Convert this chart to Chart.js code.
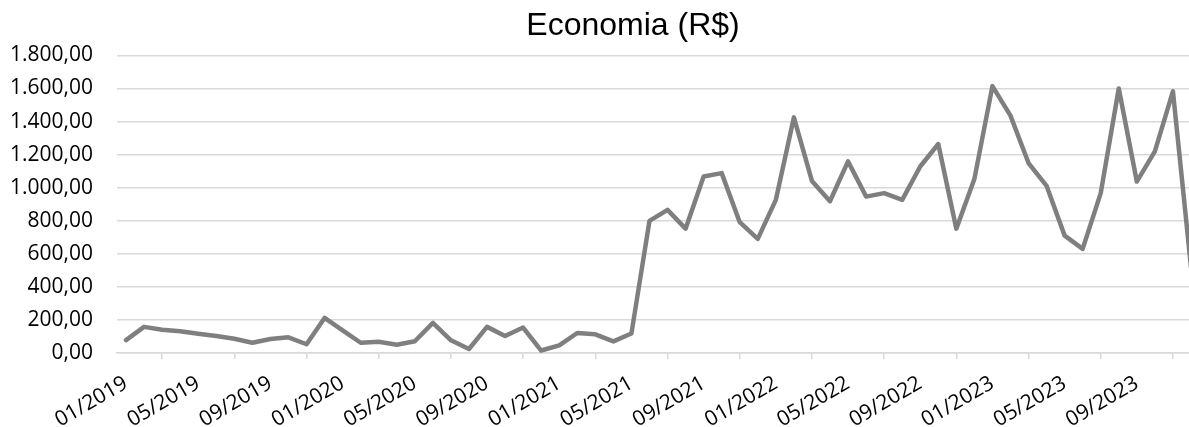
<!DOCTYPE html>
<html>
<head>
<meta charset="utf-8">
<script src="https://cdn.jsdelivr.net/npm/chart.js@4/dist/chart.umd.min.js"></script>
<style>
    html, body { margin: 0; padding: 0; background: #fff; overflow: hidden; }
    #economiaChart { position: absolute; left: 0; top: 0; }
</style>
</head>
<body>
<canvas id="economiaChart" width="1266" height="427"></canvas>
<script>
// Data
const months = [
    '01/2019', '02/2019', '03/2019', '04/2019', '05/2019', '06/2019', '07/2019', '08/2019', '09/2019', '10/2019', '11/2019', '12/2019',
    '01/2020', '02/2020', '03/2020', '04/2020', '05/2020', '06/2020', '07/2020', '08/2020', '09/2020', '10/2020', '11/2020', '12/2020',
    '01/2021', '02/2021', '03/2021', '04/2021', '05/2021', '06/2021', '07/2021', '08/2021', '09/2021', '10/2021', '11/2021', '12/2021',
    '01/2022', '02/2022', '03/2022', '04/2022', '05/2022', '06/2022', '07/2022', '08/2022', '09/2022', '10/2022', '11/2022', '12/2022',
    '01/2023', '02/2023', '03/2023', '04/2023', '05/2023', '06/2023', '07/2023', '08/2023', '09/2023', '10/2023', '11/2023', '12/2023'
];
const economia = [
    78, 158, 141, 131, 117, 103, 86, 62, 85, 95, 53, 212,
    137, 62, 68, 50, 71, 182, 77, 24, 158, 103, 154, 15,
    46, 121, 113, 70, 118, 799, 866, 752, 1068, 1088, 791, 690,
    926, 1425, 1041, 918, 1159, 946, 967, 926, 1128, 1264, 752, 1052,
    1614, 1436, 1149, 1011, 710, 630, 967, 1600, 1037, 1219, 1583, 520
];
const labelStep = 4;
const yMin = 0;
const yMax = 1800;
const yStep = 200;

// pt-BR number format, e.g. 1.800,00
function formatBRL(value) {
    const parts = value.toFixed(2).split('.');
    const intPart = parts[0].replace(/\B(?=(\d{3})+(?!\d))/g, '.');
    return intPart + ',' + parts[1];
}

const gridColor = '#d9d9d9';
const textColor = '#000000';

const ctx = document.getElementById('economiaChart').getContext('2d');
const economiaChart = new Chart(ctx, {
    type: 'line',
    data: {
        labels: months,
        datasets: [{
            label: 'Economia (R$)',
            data: economia,
            borderColor: '#7f7f7f',
            borderWidth: 4.5,
            borderJoinStyle: 'round',
            borderCapStyle: 'round',
            pointRadius: 0,
            tension: 0,
            fill: false
        }]
    },
    options: {
        responsive: false,
        animation: false,
        plugins: {
            legend: { display: false },
            tooltip: { enabled: false },
            title: {
                display: true,
                text: 'Economia (R$)',
                color: textColor,
                font: { family: 'Liberation Sans, Arial, sans-serif', size: 32, weight: 'normal' },
                padding: { top: 7, bottom: 10 }
            }
        },
        scales: {
            x: {
                offset: true,
                grid: {
                    offset: true,
                    drawOnChartArea: false,
                    drawTicks: true,
                    tickLength: 6,
                    color: gridColor,
                    lineWidth: 1.5
                },
                border: { color: gridColor, width: 1.5 },
                ticks: {
                    autoSkip: false,
                    maxRotation: 30,
                    minRotation: 30,
                    padding: 12,
                    color: textColor,
                    font: { family: 'Open Sans, sans-serif', size: 21 },
                    callback: function (value, index) {
                        return index % labelStep === 0 ? months[index] : null;
                    }
                },
                afterFit: function (scale) {
                    scale.height = 74;
                }
            },
            y: {
                min: yMin,
                max: yMax,
                grid: {
                    color: gridColor,
                    lineWidth: 1.5,
                    drawTicks: false
                },
                border: { display: false },
                ticks: {
                    stepSize: yStep,
                    padding: 24,
                    color: textColor,
                    font: { family: 'Open Sans, sans-serif', size: 21 },
                    callback: function (value) {
                        return formatBRL(value);
                    }
                },
                afterFit: function (scale) {
                    scale.width = 117;
                }
            },
            // empty right axis keeps the plot ending at the same place as the original chart
            yRight: {
                position: 'right',
                min: yMin,
                max: yMax,
                grid: { display: false },
                border: { display: false },
                ticks: { display: false },
                afterFit: function (scale) {
                    scale.width = 66;
                }
            }
        }
    }
});
</script>
</body>
</html>
